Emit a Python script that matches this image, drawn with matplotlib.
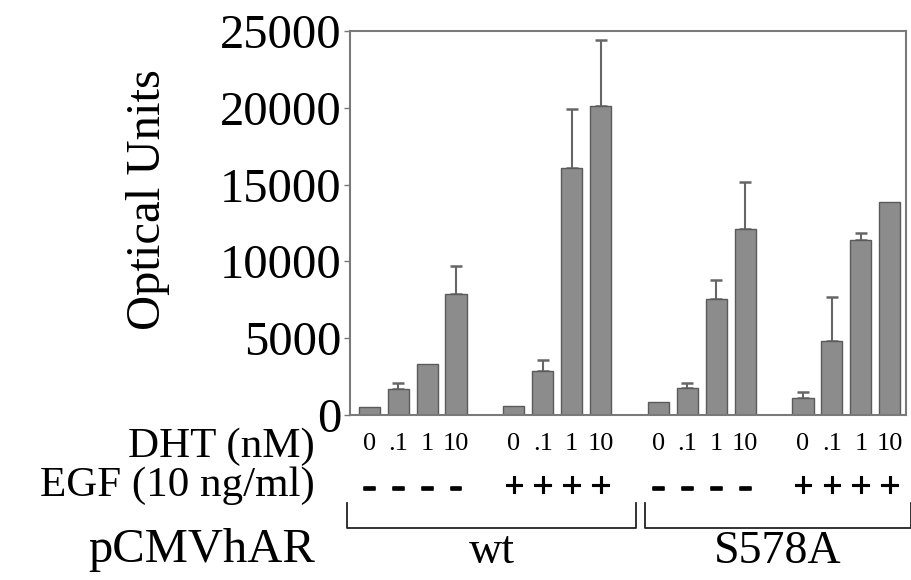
import numpy as np
import matplotlib
matplotlib.use("Agg")
import matplotlib.pyplot as plt
import matplotlib.transforms as mtransforms
import matplotlib.patheffects as pe

plt.rcParams['font.family'] = ['Liberation Serif', 'DejaVu Serif']

# data
dht_labels = ['0', '.1', '1', '10']
egf_signs = ['-', '+', '-', '+']
groups = ['wt', 'S578A']
values = [550, 1740, 3360, 7870,
          590, 2900, 16070, 20090,
          890, 1780, 7530, 12100,
          1150, 4840, 11390, 13840]
err_up = [0, 360, 0, 1850,
          0, 680, 3830, 4310,
          0, 320, 1260, 3040,
          350, 2840, 430, 0]

# bar slots: 4 per set, one empty slot between sets
x = np.array([s * 5 + i for s in range(4) for i in range(4)], dtype=float)
values = np.array(values)
err_up = np.array(err_up)

fig = plt.figure(figsize=(9.12, 5.8), dpi=100)
ax = fig.add_axes([0.384, 0.284, 0.609, 0.663])

ax.bar(x, values, width=0.73, color='#8c8c8c', edgecolor='#5a5a5a', linewidth=1.0, zorder=2)
has_err = err_up > 0
ax.errorbar(x[has_err], values[has_err],
            yerr=[np.zeros(has_err.sum()), err_up[has_err]],
            fmt='none', ecolor='#666666', elinewidth=1.5, capsize=4, capthick=1.8, zorder=1)

ax.set_xlim(-0.66, 18.55)
ax.set_ylim(0, 25000)
ax.set_yticks(np.arange(0, 25001, 5000))
ax.tick_params(axis='y', labelsize=35, length=4, width=1, color='#777777', pad=2)
ax.set_xticks(x)
ax.set_xticklabels(dht_labels * 4, fontsize=19)
ax.tick_params(axis='x', length=0, pad=13)
for sp in ax.spines.values():
    sp.set_color('#7a7a7a')
    sp.set_linewidth(1.5)

ax.set_ylabel('Optical Units', fontsize=35)
ax.yaxis.set_label_coords(-0.324, 0.56)

trans = mtransforms.blended_transform_factory(ax.transData, ax.transAxes)

# EGF signs
for s in range(4):
    sign = egf_signs[s]
    if sign == '-':
        style = dict(fontsize=30, fontweight='bold',
                     path_effects=[pe.withStroke(linewidth=1.2, foreground='black')])
    else:
        style = dict(fontsize=26,
                     path_effects=[pe.withStroke(linewidth=0.8, foreground='black')])
    for i in range(4):
        ax.text(s * 5 + i, -0.19, sign, transform=trans, ha='center', va='center',
                clip_on=False, **style)

# brackets for wt / S578A
brackets = [(-0.76, 9.24), (9.52, 18.72)]
for (x0, x1), name in zip(brackets, groups):
    ax.plot([x0, x0, x1, x1], [-0.227, -0.294, -0.294, -0.227], transform=trans,
            color='#222222', linewidth=1.3, clip_on=False)
    ax.text((x0 + x1) / 2, -0.355, name, transform=trans, ha='center', va='center',
            fontsize=33, clip_on=False)

# row labels on the left
fig.text(0.345, 0.229, 'DHT (nM)', ha='right', va='center', fontsize=31)
fig.text(0.345, 0.162, 'EGF (10 ng/ml)', ha='right', va='center', fontsize=31)
fig.text(0.345, 0.052, 'pCMVhAR', ha='right', va='center', fontsize=35)

fig.savefig('out.png', dpi=100)
